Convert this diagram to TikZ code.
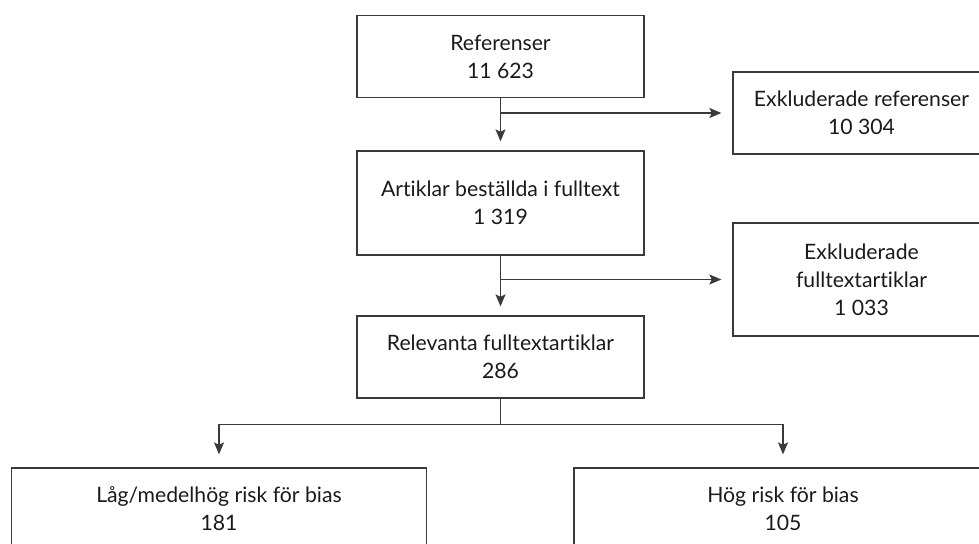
\documentclass[tikz,border=0pt]{standalone}
\usepackage{fontspec}
\setmainfont{Lato}[RawFeature={-liga}]
\usetikzlibrary{arrows.meta}
\definecolor{edge}{HTML}{3A3A3A}
\definecolor{ink}{HTML}{1A1A1A}
\begin{document}
\begin{tikzpicture}[x=1pt,y=-1pt,
  box/.style={draw=edge, line width=1.3pt, rectangle, inner sep=0pt,
    align=center, text=ink, font=\fontsize{21.2}{28}\selectfont,
    minimum height=82pt},
  link/.style={draw=edge, line width=1.3pt},
  flow/.style={link, -{Stealth[length=12pt,width=10pt,inset=2.5pt]}}]
\useasboundingbox (0,0) rectangle (979,543);
\clip (0,0) rectangle (979,543);

% main column
\node[box, minimum width=287pt] (refs) at (500.5,56.5) {Referenser\\11 623};
\node[box, minimum width=287pt, minimum height=104pt] (full) at (500.5,203) {Artiklar beställda i fulltext\\1 319};
\node[box, minimum width=287pt] (rel) at (500.5,357) {Relevanta fulltextartiklar\\286};

% exclusions
\node[box, minimum width=257pt] (exref) at (861.5,113) {Exkluderade referenser\\10 304};
\node[box, minimum width=257pt, minimum height=113pt] (exfull) at (861.5,279.5) {Exkluderade\\fulltextartiklar\\1 033};

% risk of bias
\node[box, minimum width=415pt] (low) at (219,509) {Låg/medelhög risk för bias\\181};
\node[box, minimum width=418pt] (high) at (783,509) {Hög risk för bias\\105};

% connectors
\draw[flow, shorten >=9pt] (refs.south) -- (full.north);
\draw[flow, shorten >=11pt] (refs.south |- exref.west) -- (exref.west);
\draw[flow, shorten >=9pt] (full.south) -- (rel.north);
\draw[flow, shorten >=11pt] (full.south |- exfull.west) -- (exfull.west);
\draw[link] (rel.south) -- ++(0,26) coordinate (split);
\draw[flow, shorten >=13pt] (split) -| (low.north);
\draw[flow, shorten >=13pt] (split) -| (high.north);
\end{tikzpicture}
\end{document}
